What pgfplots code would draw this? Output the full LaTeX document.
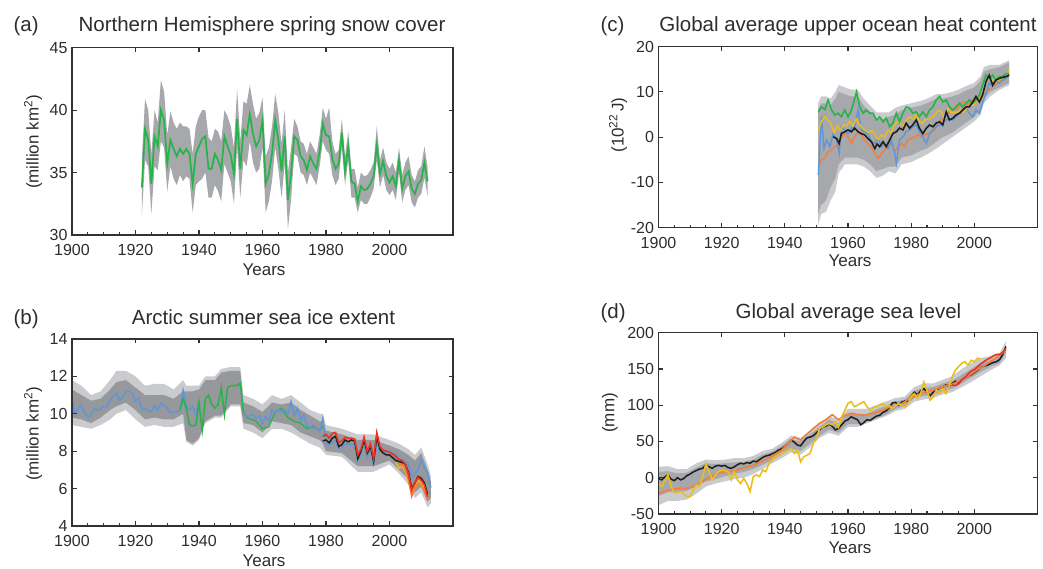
\documentclass[border=0pt]{standalone}
\usepackage{pgfplots}
\pgfplotsset{compat=1.18}
\usepackage{pgfplotstable}
\usepgfplotslibrary{fillbetween}
\usepackage{fontspec}
\setmainfont{Liberation Sans}

\definecolor{cgreen}{RGB}{40,178,74}
\definecolor{cblue}{RGB}{95,150,215}
\definecolor{cred}{RGB}{235,50,35}
\definecolor{corange}{RGB}{245,125,60}
\definecolor{cyellow}{RGB}{235,190,30}
\definecolor{cblack}{RGB}{30,30,30}
\definecolor{bandmid}{RGB}{166,168,171}
\definecolor{bandlight}{RGB}{202,203,206}
\definecolor{banddark}{RGB}{150,152,156}
\definecolor{axisgray}{RGB}{50,50,50}
\definecolor{textgray}{RGB}{45,45,45}

% (a) snow cover: year, value, band low, band high
\pgfplotstableread{
yr v lo hi
1922 33.8 31.5 36.0
1923 38.5 36.0 40.9
1924 37.6 35.5 40.0
1925 34.1 31.7 36.5
1926 37.9 35.5 40.0
1927 37.1 35.2 39.0
1928 40.0 37.5 42.4
1929 39.2 37.0 41.5
1930 35.7 33.5 38.0
1931 37.6 35.5 39.9
1932 36.9 34.5 39.0
1933 36.3 34.0 38.5
1934 36.9 34.8 39.0
1935 36.5 34.3 38.7
1936 36.9 34.7 38.7
1937 36.5 34.5 38.5
1938 34.1 31.8 36.5
1939 36.5 34.0 38.7
1940 37.1 34.3 39.5
1941 37.7 34.5 40.0
1942 37.9 35.0 40.0
1943 35.3 33.0 37.8
1944 35.3 33.0 37.5
1945 36.5 34.0 38.5
1946 36.0 33.5 38.3
1947 35.2 32.7 37.5
1948 37.9 35.7 40.0
1949 37.1 35.0 39.5
1950 36.4 34.3 38.7
1951 34.9 32.5 37.0
1952 39.3 37.0 41.7
1953 35.3 33.0 37.5
1954 38.4 36.0 40.7
1955 38.0 35.5 40.5
1956 39.7 37.5 42.0
1957 38.1 35.8 40.5
1958 37.1 35.0 39.3
1959 37.6 35.3 39.8
1960 39.2 37.0 41.0
1961 34.1 31.8 36.3
1962 34.9 32.7 37.0
1963 36.5 34.3 38.7
1964 39.2 37.0 41.3
1965 37.6 35.3 39.8
1966 35.1 33.0 37.3
1967 37.9 35.7 40.0
1968 32.8 30.5 35.0
1969 34.9 32.8 37.0
1970 37.9 36.5 39.3
1971 37.6 36.3 38.7
1972 36.3 35.0 37.5
1973 36.0 34.8 37.3
1974 35.2 34.0 36.5
1975 36.3 35.0 37.5
1976 35.7 34.5 37.0
1977 35.3 34.0 36.5
1978 36.7 35.5 38.0
1979 38.9 37.5 40.2
1980 38.0 36.8 39.3
1981 37.9 36.5 40.2
1982 36.1 34.8 37.5
1983 35.3 34.0 36.5
1984 35.7 34.5 36.8
1985 38.2 37.0 39.3
1986 35.1 34.0 36.3
1987 37.1 36.0 38.3
1988 34.3 33.0 35.3
1989 34.1 33.0 35.3
1990 32.7 31.8 33.8
1991 33.9 32.8 35.0
1992 33.6 32.5 34.7
1993 33.7 32.5 34.8
1994 34.1 33.0 35.2
1995 34.7 33.7 35.8
1996 37.2 36.0 38.7
1997 34.9 33.8 36.0
1998 35.9 34.8 37.0
1999 34.7 33.6 35.8
2000 34.2 33.2 35.3
2001 34.7 33.6 35.8
2002 33.9 32.8 35.0
2003 36.0 35.0 37.0
2004 33.7 32.6 34.8
2005 34.7 33.6 35.8
2006 35.1 34.0 36.3
2007 33.7 32.6 34.8
2008 33.3 32.2 34.3
2009 34.1 33.0 35.2
2010 34.4 33.3 35.5
2011 35.8 34.6 37.1
2012 34.3 33.1 35.4
}\dataA

% (b) sea ice bands: outer and inner
\pgfplotstableread{
yr ohi olo ihi ilo
1900 11.8 9.4 11.3 9.8
1903 11.5 9.3 11.0 9.7
1906 11.0 9.2 10.7 9.5
1909 11.2 9.4 10.8 9.8
1912 11.8 9.7 11.3 10.2
1914 12.3 10.0 11.7 10.4
1917 12.3 10.2 11.8 10.6
1920 12.0 9.7 11.4 10.2
1923 11.5 9.3 11.0 9.7
1926 11.6 9.4 11.0 9.8
1929 11.6 9.3 11.0 9.7
1932 11.3 9.3 10.8 9.7
1935 11.8 9.5 11.2 10.0
1936 11.5 8.5 11.2 8.6
1938 11.5 8.3 11.2 8.4
1940 11.5 8.6 11.3 8.7
1942 12.0 9.5 11.8 9.6
1945 12.0 9.8 11.8 9.9
1947 12.4 9.8 12.2 9.9
1950 12.5 10.4 12.3 10.5
1953 12.5 10.4 12.3 10.5
1954 11.0 9.2 10.6 9.5
1957 10.8 9.0 10.4 9.4
1960 10.5 8.7 10.1 9.0
1963 11.0 9.2 10.6 9.6
1966 10.8 9.2 10.5 9.5
1969 11.0 9.0 10.6 9.4
1972 10.6 8.7 10.2 9.0
1975 10.2 8.4 9.9 8.8
1978 10.0 8.2 9.6 8.6
1979 10.0 8.0 9.6 8.4
1980 9.4 7.8 9.1 8.0
1985 9.2 7.7 8.9 7.9
1990 8.9 6.9 8.6 7.2
1995 8.9 6.9 8.6 7.2
2000 8.6 7.3 8.3 7.5
2003 8.4 6.8 8.1 7.0
2006 8.1 6.2 7.8 6.5
2008 7.8 5.5 7.5 5.8
2010 8.2 5.8 7.9 6.1
2012 7.3 5.0 7.0 5.3
2013 6.7 5.2 6.4 5.5
}\bandB

% (c) ocean heat content bands
\pgfplotstableread{
yr ohi olo ihi ilo
1950.5 7.5 -19.5 6.0 -17.0
1951.5 9.0 -17.0 7.5 -15.0
1953 9.0 -16.5 7.5 -14.0
1954.5 8.5 -14.0 7.0 -11.0
1956 10.0 -12.0 8.5 -9.0
1957 11.5 -8.0 10.0 -6.0
1959 11.0 -6.0 9.5 -4.5
1961 10.5 -6.0 9.0 -4.5
1963 10.5 -6.0 9.0 -4.5
1965 8.5 -6.5 7.0 -5.0
1967 7.0 -7.5 5.5 -6.0
1969 5.5 -9.0 4.0 -7.5
1971 5.5 -8.5 4.0 -7.0
1973 5.5 -7.5 4.5 -6.5
1975 6.5 -8.0 5.0 -6.5
1977 7.0 -6.0 6.0 -4.5
1980 7.5 -5.5 6.5 -4.0
1983 8.0 -4.5 7.0 -3.0
1985 8.5 -3.8 7.5 -2.5
1988 9.5 -2.5 8.5 -1.0
1990 9.5 -1.5 8.5 0.0
1993 10.0 0.0 9.0 1.0
1995 10.5 1.0 9.5 2.0
1998 11.5 2.5 10.5 3.5
2000 12.0 3.5 11.0 4.5
2002 13.5 5.0 12.5 6.0
2003 15.5 7.5 14.5 8.5
2005 16.0 9.0 15.0 10.0
2008 16.0 10.5 15.5 11.0
2011 17.0 11.5 16.5 12.0
}\bandC

% (d) sea level bands
\pgfplotstableread{
yr ohi olo ihi ilo
1900 15 -38 8 -25
1903 16 -32 9 -20
1906 12 -32 6 -20
1909 12 -30 7 -18
1912 20 -22 14 -12
1915 25 -12 20 -5
1918 24 -8 19 -2
1921 25 -5 20 2
1924 27 -2 21 5
1927 27 0 22 8
1930 30 5 25 12
1933 37 12 32 18
1936 40 20 36 24
1939 48 27 44 32
1942 58 35 53 40
1945 55 32 50 37
1948 65 42 60 47
1951 75 55 70 58
1954 85 62 80 66
1957 80 58 75 62
1960 95 70 88 74
1963 95 70 88 74
1966 95 75 88 78
1969 100 80 94 82
1972 105 85 99 87
1975 110 92 105 95
1978 112 95 108 99
1981 125 105 120 110
1984 130 108 124 113
1987 130 110 125 114
1990 135 115 130 119
1993 140 118 134 123
1996 150 125 142 130
1999 158 132 150 138
2002 165 140 158 146
2005 168 148 162 153
2008 172 155 167 158
2010 188 165 182 172
}\bandD

\pgfplotsset{panel/.style={
  scale only axis, xmin=1900, xmax=2020,
  xtick={1900,1920,...,2000}, minor x tick num=3,
  xtick pos=left, ytick pos=both, tick align=inside,
  major tick length=4.5pt, minor tick length=3pt,
  axis line style={line width=1.4pt, draw=axisgray},
  tick style={line width=1.1pt, draw=axisgray},
  ticklabel style={font=\fontsize{16}{17}\selectfont, text=textgray},
  xticklabel style={yshift=-6pt},
  yticklabel style={xshift=-1pt},
  /pgf/number format/assume math mode=true,
  /pgf/number format/set thousands separator={},
  axis on top}}

\begin{document}
\begin{tikzpicture}
\tikzset{ttl/.style={font=\fontsize{20.5}{24}\selectfont, text=textgray},
         lbl/.style={font=\fontsize{17}{20}\selectfont, text=textgray}}

% ---------------- (a)
\begin{axis}[panel, at={(72pt,334pt)}, anchor=south west,
  width=381pt, height=187.3pt, ymin=30, ymax=45, ytick={30,35,40,45}]
\addplot[draw=none, name path=ahi] table[x=yr, y=hi] {\dataA};
\addplot[draw=none, name path=alo] table[x=yr, y=lo] {\dataA};
\addplot[bandmid] fill between[of=ahi and alo];
\addplot[cgreen, line width=1.7pt] table[x=yr, y=v] {\dataA};
\pgfplotsinvokeforeach{1920,1940,1960,1980,2000}{\draw[axisgray,line width=1.1pt] (axis cs:#1,45) -- ++(0pt,-4.5pt);}
\end{axis}
\node[ttl, anchor=base west] at (10pt,537.4pt) {(a)};
\node[ttl, anchor=base] at (262pt,537.4pt) {Northern Hemisphere spring snow cover};
\node[lbl, anchor=base] at (264pt,293pt) {Years};
\node[lbl, rotate=90] at (33pt,427pt) {(million km\textsuperscript{2})};

% ---------------- (b)
\begin{axis}[panel, at={(72pt,43pt)}, anchor=south west,
  width=381pt, height=187pt, ymin=4, ymax=14, ytick={4,6,...,14}]
\addplot[draw=none, name path=bohi] table[x=yr, y=ohi] {\bandB};
\addplot[draw=none, name path=bolo] table[x=yr, y=olo] {\bandB};
\addplot[bandlight] fill between[of=bohi and bolo];
\addplot[draw=none, name path=bihi] table[x=yr, y=ihi] {\bandB};
\addplot[draw=none, name path=bilo] table[x=yr, y=ilo] {\bandB};
\addplot[banddark] fill between[of=bihi and bilo];
% green, later part (mostly under blue)
\addplot[cgreen, line width=1.2pt] coordinates {
(1954,10.1) (1955,9.8) (1958,9.6) (1960,9.2) (1962,9.3) (1964,10.1) (1966,10.3)
(1968,9.8) (1970,9.6) (1972,9.5) (1974,9.2) (1976,9.3) (1978,9.1) (1979,9.3)};
% blue
\addplot[cblue, line width=1.5pt] coordinates {
(1900,10.75) (1901,10.0) (1902,10.3) (1903,10.45) (1904,10.0) (1905,9.85) (1906,9.9)
(1907,10.3) (1908,10.2) (1909,10.25) (1910,10.4) (1911,10.4) (1912,10.75) (1913,10.95)
(1914,11.1) (1915,10.7) (1916,10.9) (1917,11.2) (1918,11.2) (1919,11.1) (1920,10.65)
(1921,10.85) (1922,10.2) (1923,10.3) (1924,10.15) (1925,10.1) (1926,10.45) (1927,10.2)
(1928,10.55) (1929,10.45) (1930,10.3) (1931,10.05) (1932,10.1) (1933,10.1) (1934,10.15)
(1935,11.25) (1936,10.4) (1937,10.2) (1938,10.4) (1939,9.95) (1940,10.7)};
\addplot[cblue, line width=1.5pt] coordinates {
(1954,10.0) (1955,9.85) (1956,9.9) (1957,9.95) (1958,9.75) (1959,9.9) (1960,9.45)
(1961,9.85) (1962,9.6) (1963,10.2) (1964,10.05) (1965,10.2) (1966,10.1) (1967,10.2)
(1968,10.0) (1969,10.65) (1970,9.9) (1971,10.3) (1972,9.65) (1973,9.95) (1974,9.35)
(1975,9.25) (1976,9.4) (1977,9.2) (1978,9.05) (1979,9.75) (1980,8.4) (1981,8.35)
(1982,8.5) (1983,8.55) (1984,8.15) (1985,8.2) (1986,8.4) (1987,8.35) (1988,8.35)
(1989,8.4) (1990,7.5) (1991,7.9) (1992,8.4) (1993,7.7) (1994,8.1) (1995,7.35)
(1996,8.5) (1997,8.0) (1998,7.9) (1999,7.95) (2000,8.0) (2001,7.9) (2002,7.85)
(2003,7.6) (2004,7.55) (2005,7.45) (2006,7.35) (2007,6.6) (2008,6.8) (2009,7.0)
(2010,7.55) (2011,7.1) (2012,6.85) (2013,6.05)};
% green 1934-1954
\addplot[cgreen, line width=1.5pt] coordinates {
(1934,10.2) (1935,10.8) (1936,10.3) (1937,9.4) (1938,9.35) (1939,9.4) (1940,10.6)
(1941,9.1) (1942,10.8) (1943,11.0) (1944,10.5) (1945,10.3) (1946,10.5) (1947,11.4)
(1948,9.95) (1949,11.4) (1950,11.5) (1951,11.5) (1952,11.5) (1953,11.65) (1954,10.1)};
% yellow and orange
\addplot[cyellow, line width=1.5pt] coordinates {
(2002,7.4) (2003,7.1) (2004,7.2) (2005,6.9) (2006,6.4) (2007,5.7) (2008,6.1)
(2009,6.4) (2010,6.3) (2011,6.0) (2012,5.5)};
\addplot[corange, line width=1.8pt] coordinates {
(2003,7.2) (2004,7.3) (2005,7.0) (2006,6.5) (2007,5.6) (2008,6.0) (2009,6.3)
(2010,6.2) (2011,5.9) (2012,5.4)};
% black
\addplot[cblack, line width=1.5pt] coordinates {
(1979,8.55) (1980,8.6) (1981,8.45) (1982,8.7) (1983,8.8) (1984,8.25) (1985,8.35)
(1986,8.6) (1987,8.5) (1988,8.6) (1989,8.55) (1990,7.6) (1991,8.0) (1992,8.6)
(1993,7.9) (1994,8.25) (1995,7.45) (1996,8.8) (1997,8.1) (1998,7.9) (1999,7.8)
(2000,7.8) (2001,7.65) (2002,7.5) (2003,7.45) (2004,7.4) (2005,7.3) (2006,6.85)
(2007,6.0) (2008,6.3) (2009,6.65) (2010,6.55) (2011,6.3) (2012,5.7)};
% red
\addplot[cred, line width=1.6pt] coordinates {
(1979,8.8) (1980,8.9) (1981,8.7) (1982,8.95) (1983,9.0) (1984,8.45) (1985,8.55)
(1986,8.75) (1987,8.7) (1988,8.7) (1989,8.65) (1990,7.8) (1991,8.1) (1992,8.75)
(1993,8.0) (1994,8.4) (1995,7.6) (1996,9.0) (1997,8.25) (1998,8.05) (1999,8.0)
(2000,7.95) (2001,7.85) (2002,7.7) (2003,7.55) (2004,7.5) (2005,7.3) (2006,6.75)
(2007,5.9) (2008,6.3) (2009,6.6) (2010,6.45) (2011,6.2) (2012,5.55)};
\pgfplotsinvokeforeach{1920,1940,1960,1980,2000}{\draw[axisgray,line width=1.1pt] (axis cs:#1,14) -- ++(0pt,-4.5pt);}
\end{axis}
\node[ttl, anchor=base west] at (10pt,244pt) {(b)};
\node[ttl, anchor=base] at (263.5pt,244pt) {Arctic summer sea ice extent};
\node[lbl, anchor=base] at (264pt,2pt) {Years};
\node[lbl, rotate=90] at (33pt,135pt) {(million km\textsuperscript{2})};

% ---------------- (c)
\begin{axis}[panel, at={(658.5pt,341.3pt)}, anchor=south west,
  width=379pt, height=181pt, ymin=-20, ymax=20, ytick={-20,-10,...,20}]
\addplot[draw=none, name path=cohi] table[x=yr, y=ohi] {\bandC};
\addplot[draw=none, name path=colo] table[x=yr, y=olo] {\bandC};
\addplot[bandlight] fill between[of=cohi and colo];
\addplot[draw=none, name path=cihi] table[x=yr, y=ihi] {\bandC};
\addplot[draw=none, name path=cilo] table[x=yr, y=ilo] {\bandC};
\addplot[bandmid] fill between[of=cihi and cilo];
% orange
\addplot[corange, line width=1.4pt] coordinates {
(1950.6,-6.5) (1951.6,-5.0) (1952.7,-4.6) (1953.7,-3.2) (1954.8,-2.8) (1955.8,-2.1)
(1956.9,-1.7) (1957.9,0.1) (1959,0.8) (1960,0.1) (1961.1,-1.4) (1962.1,0.1)
(1963.2,1.2) (1964.2,0.5) (1965.3,-0.6) (1966.3,-1.4) (1967.4,-2.1) (1968.5,-3.6)
(1969.5,-4.7) (1970.6,-3.6) (1971.6,-2.8) (1972.7,-2.1) (1973.7,-1.4) (1974.8,-3.2)
(1975.8,-2.1) (1976.9,-1.4) (1977.9,-2.1) (1979,-0.6) (1980,-0.3) (1981.1,0.1)
(1982.1,0.5) (1983.2,0.1) (1984.2,0.5) (1985.3,0.8) (1986.3,1.2) (1987.4,1.6)
(1988.4,3.1) (1989.5,3.8) (1990.5,4.5) (1991.6,5.3) (1992.6,6.0) (1993.7,6.0)
(1994.7,6.4) (1995.8,7.5) (1996.8,7.8) (1997.9,7.1) (1999,8.2) (2000,7.5)
(2001.1,8.2) (2002.1,9.0) (2003.2,9.7) (2004.2,10.4) (2005.3,10.8) (2006.3,11.5)
(2007.4,11.9) (2008.4,12.6) (2009.5,13.0) (2011,14.0)};
% blue
\addplot[cblue, line width=1.4pt] coordinates {
(1950.6,-8.4) (1951.6,4.5) (1952.4,-2.5) (1953.2,-0.6) (1954.3,-2.1) (1955.3,0.8)
(1956.4,-0.6) (1957.2,-3.6) (1957.9,2.3) (1959,1.6) (1960,0.8) (1961.1,2.0)
(1962.1,2.3) (1963.2,6.0) (1964.2,1.6) (1965.3,1.2) (1966.3,0.8) (1967.4,-1.0)
(1968.5,-1.4) (1969.5,-0.3) (1970.6,-2.1) (1971.6,-1.4) (1972.7,-2.5) (1973.7,-0.6)
(1974.8,-3.6) (1975.3,-5.8) (1976.3,-0.6) (1977.4,0.1) (1978.4,1.2) (1979.5,1.6)
(1980.5,2.3) (1981.6,2.7) (1982.6,1.2) (1983.7,0.1) (1984.8,-1.4) (1985.8,0.8)
(1986.9,1.6) (1987.9,2.3) (1989,2.7) (1990,3.1) (1991.1,3.8) (1992.1,4.2)
(1993.2,3.8) (1994.2,4.5) (1995.3,5.3) (1996.3,6.0) (1997.4,6.4) (1998.4,5.3)
(1999.5,4.5) (2000.5,6.0) (2001.6,5.3) (2002.6,7.5) (2003.7,9.7) (2004.7,11.9)
(2005.8,11.2) (2006.8,12.6) (2007.9,11.9) (2008.9,12.6) (2010,13.0) (2011,13.7)};
% yellow
\addplot[cyellow, line width=1.4pt] coordinates {
(1950.6,1.5) (1951.6,3.5) (1952.6,4.5) (1953.6,3.8) (1954.6,3.0) (1955.6,1.0)
(1956.6,2.5) (1957.6,1.5) (1958.6,2.8) (1959.6,2.5) (1960.6,3.5) (1961.6,2.5)
(1962.6,4.0) (1963.6,2.8) (1964.6,2.0) (1965.6,1.5) (1966.6,1.0) (1967.6,1.5)
(1968.6,0.5) (1969.6,-0.5) (1970.6,0.5) (1971.6,0.0) (1972.6,1.5) (1973.6,1.0)
(1974.6,2.5) (1975.6,3.5) (1976.6,3.0) (1977.6,2.5) (1978.6,4.0) (1979.6,4.5)
(1980.6,4.0) (1981.6,5.0) (1982.6,3.5) (1983.6,3.0) (1984.6,4.0) (1985.6,4.0)
(1986.6,4.5) (1987.6,5.0) (1988.6,6.0) (1989.6,5.5) (1990.6,4.0) (1991.6,6.5)
(1992.6,5.5) (1993.6,5.5) (1994.6,5.5) (1995.6,6.0) (1996.6,5.5) (1997.6,6.5)
(1998.6,7.0) (1999.6,7.0) (2000.6,8.0) (2001.6,8.5) (2002.6,9.0) (2003.6,12.0)
(2004.6,13.5) (2005.6,12.5) (2006.6,13.0) (2007.6,12.5) (2008.6,13.0) (2009.6,13.5)
(2010.6,14.0) (2011,14.8)};
% green
\addplot[cgreen, line width=1.6pt] coordinates {
(1950.6,5.6) (1951.6,6.7) (1952.7,6.1) (1953.7,8.2) (1954.8,6.0) (1955.8,4.9)
(1956.9,5.3) (1957.9,4.5) (1959,6.0) (1960,4.5) (1961.1,6.0) (1962.7,10.0)
(1963.7,6.7) (1964.8,5.3) (1965.8,6.0) (1966.9,5.3) (1967.9,5.3) (1969,3.8)
(1970,4.5) (1971.1,3.4) (1972.1,4.2) (1973.2,2.3) (1974.2,3.1) (1975.3,5.3)
(1976.3,3.4) (1977.4,5.3) (1978.4,6.7) (1979.5,6.4) (1980.5,5.3) (1981.6,5.6)
(1982.6,4.5) (1983.7,5.6) (1984.8,4.5) (1985.8,6.0) (1986.9,6.7) (1987.9,8.2)
(1989,9.0) (1990,7.8) (1991.1,8.2) (1992.1,6.7) (1993.2,6.0) (1994.2,6.7)
(1995.3,7.5) (1996.3,6.7) (1997.4,7.5) (1998.4,8.2) (1999.5,7.5) (2000.5,8.2)
(2001.6,9.3) (2002.6,11.5) (2003.7,13.7) (2004.7,13.0) (2005.8,13.7) (2006.8,12.6)
(2007.9,13.4) (2008.9,13.4) (2010,14.0) (2011,14.1)};
% black
\addplot[cblack, line width=1.6pt] coordinates {
(1955.3,0.1) (1956.4,-0.3) (1957.2,-1.4) (1957.9,0.8) (1959,1.2) (1960,1.6)
(1961.1,1.2) (1962.1,2.0) (1963.2,1.2) (1964.2,0.8) (1965.3,0.5) (1966.3,-0.3)
(1967.4,-1.0) (1968.5,-2.5) (1969.2,-1.5) (1970,-2.1) (1971.1,-1.0) (1972.1,-2.1)
(1973.2,-0.6) (1974.2,0.8) (1975.3,1.2) (1976.3,2.0) (1977.4,1.6) (1978.4,3.1)
(1979.5,2.0) (1980.5,2.7) (1981.6,3.8) (1982.6,2.0) (1983.7,0.8) (1984.8,2.0)
(1985.8,2.7) (1986.9,2.3) (1987.9,3.1) (1989,3.4) (1990,2.7) (1991.1,5.6)
(1992.1,3.8) (1993.2,4.2) (1994.2,4.9) (1995.3,5.3) (1996.3,6.0) (1997.4,6.7)
(1998.4,6.7) (1999.5,7.8) (2000.5,9.0) (2001.6,7.8) (2002.6,9.3) (2003.7,12.3)
(2004.7,13.7) (2005.8,11.5) (2006.8,12.6) (2007.9,13.0) (2008.9,13.2) (2010,13.4)
(2011,13.7)};
\pgfplotsinvokeforeach{1920,1940,1960,1980,2000}{\draw[axisgray,line width=1.1pt] (axis cs:#1,20) -- ++(0pt,-4.5pt);}
\end{axis}
\node[ttl, anchor=base west] at (597pt,537.4pt) {(c)};
\node[ttl, anchor=base] at (848pt,537.4pt) {Global average upper ocean heat content};
\node[lbl, anchor=base] at (850pt,302pt) {Years};
\node[lbl, rotate=90] at (618pt,444pt) {(10\textsuperscript{22}\,J)};

% ---------------- (d)
\begin{axis}[panel, at={(658.5pt,55pt)}, anchor=south west,
  width=379pt, height=181.3pt, ymin=-50, ymax=200, ytick={-50,0,...,200}]
\addplot[draw=none, name path=dohi] table[x=yr, y=ohi] {\bandD};
\addplot[draw=none, name path=dolo] table[x=yr, y=olo] {\bandD};
\addplot[bandlight] fill between[of=dohi and dolo];
\addplot[draw=none, name path=dihi] table[x=yr, y=ihi] {\bandD};
\addplot[draw=none, name path=dilo] table[x=yr, y=ilo] {\bandD};
\addplot[bandmid] fill between[of=dihi and dilo];
% black
\addplot[cblack, line width=1.5pt] coordinates {
(1900,-1) (1901,-3) (1902,1) (1903,4) (1904,-2) (1905,-4) (1906,0) (1907,-3)
(1908,-1) (1909,3) (1910,5) (1911,8) (1912,10) (1913,12) (1914,13) (1915,18)
(1916,15) (1917,13) (1918,16) (1919,17) (1920,16) (1921,17) (1922,14) (1923,13)
(1924,15) (1925,18) (1926,20) (1927,19) (1928,21) (1929,20) (1930,23) (1931,22)
(1932,25) (1933,28) (1934,30) (1935,31) (1936,33) (1937,35) (1938,38) (1939,40)
(1940,43) (1941,47) (1942,52) (1943,49) (1944,45) (1945,44) (1946,50) (1947,55)
(1948,56) (1949,58) (1950,62) (1951,66) (1952,70) (1953,71) (1954,74) (1955,71)
(1956,66) (1957,68) (1958,73) (1959,78) (1960,80) (1961,84) (1962,82) (1963,80)
(1964,73) (1965,76) (1966,80) (1967,79) (1968,82) (1969,85) (1970,86) (1971,90)
(1972,92) (1973,96) (1974,103) (1975,104) (1976,100) (1977,104) (1978,106) (1979,105)
(1980,112) (1981,118) (1982,114) (1983,120) (1984,123) (1985,118) (1986,113) (1987,118)
(1988,121) (1989,124) (1990,125) (1991,128) (1992,126) (1993,130) (1994,133) (1995,130)
(1996,135) (1997,138) (1998,140) (1999,142) (2000,145) (2001,148) (2002,152) (2003,154)
(2004,155) (2005,157) (2006,159) (2007,160) (2008,163) (2009,170) (2010,181)};
% orange
\addplot[corange, line width=1.6pt] coordinates {
(1900,-22) (1903,-17) (1906,-15) (1909,-14.5) (1912,-10) (1915,-2) (1918,5) (1921,8.5)
(1924,9) (1927,14) (1930,17) (1933,23) (1936,30) (1939,38) (1941,47) (1943,56)
(1945,52) (1947,60) (1949,68) (1951,75) (1953,80) (1955,87) (1957,80) (1959,86)
(1961,89) (1963,87) (1965,86) (1967,88) (1969,90) (1971,93) (1973,97) (1975,100)
(1977,102) (1979,108) (1981,112) (1983,116) (1985,119) (1987,121) (1989,124) (1991,127)
(1993,129) (1995,133) (1997,137) (1999,143) (2001,149) (2003,154) (2005,160) (2007,166)
(2009,172) (2010,176)};
% yellow
\addplot[cyellow, line width=1.6pt] coordinates {
(1900,-8) (1901,-12) (1903,4) (1904,-12) (1905,-21) (1907,-19) (1908,-22) (1909,-26)
(1910,-26) (1911,-17) (1912,-10) (1913,-12) (1914,1.5) (1915,20) (1916,8.5) (1917,-3)
(1918,4) (1919,8.5) (1920,10.7) (1922,8.5) (1923,-3) (1924,8.5) (1925,-3) (1926,-8)
(1927,-1) (1928,-8) (1929,-19) (1930,1.5) (1931,4) (1932,1.5) (1933,10.7) (1934,8.5)
(1935,20) (1936,24.5) (1937,29) (1938,31.3) (1940,36) (1942,40.5) (1943,33.6) (1944,38)
(1945,22) (1946,29) (1947,31) (1948,33.6) (1949,47.5) (1950,54) (1951,68) (1952,70)
(1953,72.7) (1954,75) (1955,73) (1956,77) (1957,70) (1958,84) (1959,93) (1960,102.6)
(1961,105) (1962,98) (1963,100) (1964,102.6) (1965,105) (1966,98) (1967,93) (1968,97)
(1969,98) (1970,100) (1971,102.6) (1972,98) (1973,100) (1974,95.7) (1975,100) (1976,102)
(1977,100) (1978,98) (1979,102.6) (1980,112) (1981,116) (1982,109.5) (1983,116) (1984,132)
(1985,121) (1986,107) (1987,112) (1988,121) (1989,116) (1990,123) (1991,116) (1992,125.5)
(1993,139) (1994,148.5) (1995,153) (1996,157.7) (1997,160) (1998,155) (1999,162)
(2000,160) (2001,164.6) (2002,164.6)};
% red
\addplot[cred, line width=1.6pt] coordinates {
(1993,128) (1994,127) (1995,130) (1996,135) (1997,138) (1998,143) (1999,147) (2000,149)
(2001,153) (2002,157) (2003,160) (2004,163) (2005,165) (2006,168) (2007,170) (2008,170)
(2009,173) (2010,178)};
\pgfplotsinvokeforeach{1920,1940,1960,1980,2000}{\draw[axisgray,line width=1.1pt] (axis cs:#1,200) -- ++(0pt,-4.5pt);}
\end{axis}
\node[ttl, anchor=base west] at (597pt,250pt) {(d)};
\node[ttl, anchor=base] at (848.5pt,250pt) {Global average sea level};
\node[lbl, anchor=base] at (850pt,15.3pt) {Years};
\node[lbl, rotate=90] at (610pt,156pt) {(mm)};

\pgfresetboundingbox
\useasboundingbox (0,0) rectangle (1043pt,569pt);
\end{tikzpicture}
\end{document}
